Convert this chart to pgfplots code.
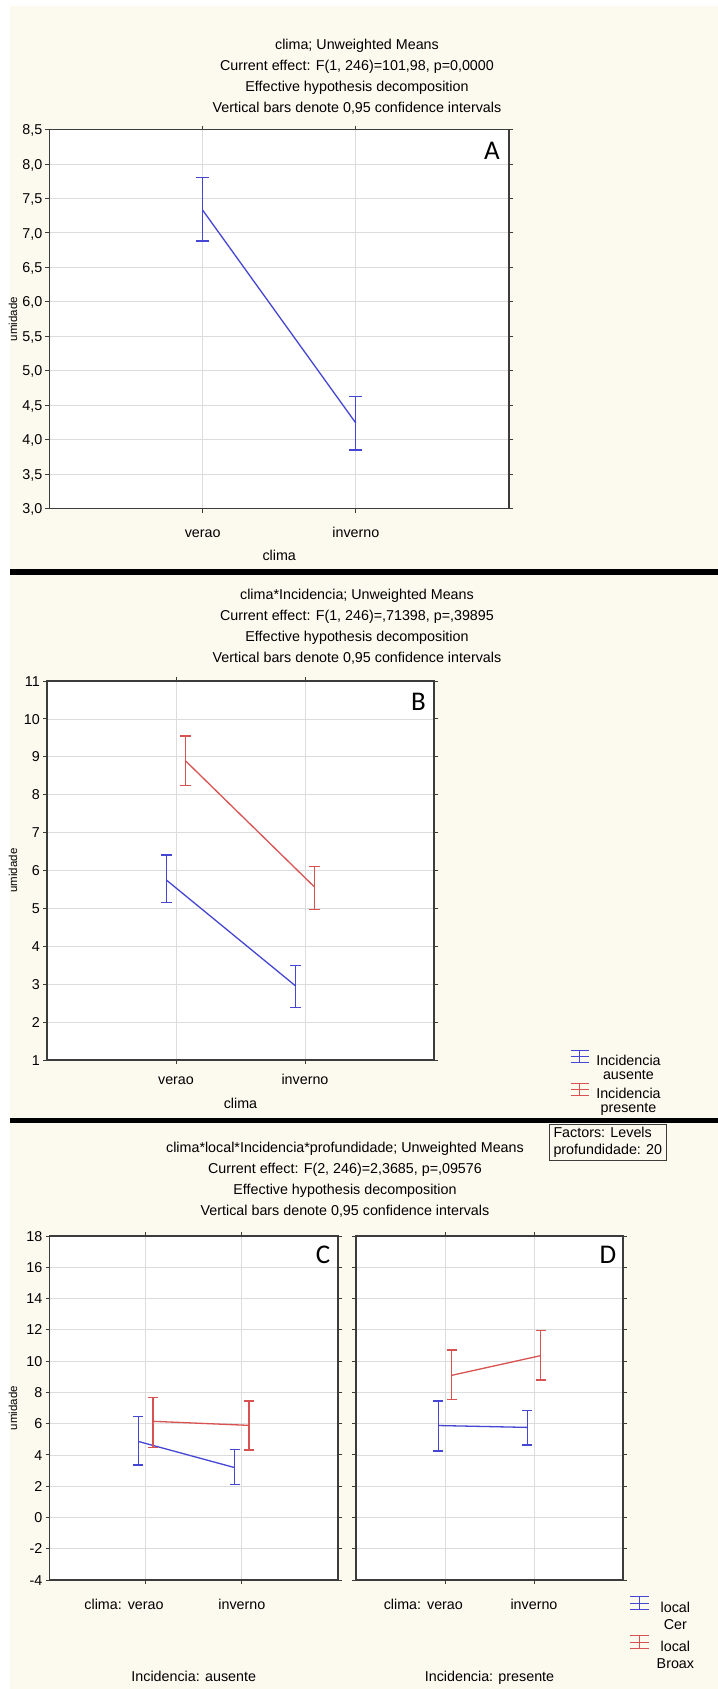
\documentclass[border=0pt]{standalone}
\usepackage{fontspec}
\setmainfont{Liberation Sans}
\newfontfamily\lblfont{Carlito}
\usepackage{pgfplots}
\pgfplotsset{compat=1.18}

\definecolor{bg}{RGB}{252,249,239}
\definecolor{sblue}{RGB}{70,70,212}
\definecolor{sred}{RGB}{216,82,82}
\definecolor{gridc}{RGB}{220,220,220}
\definecolor{axc}{RGB}{60,60,60}

\newcommand{\tf}{\fontsize{14.3bp}{17bp}\selectfont}
\newcommand{\yf}{\fontsize{11.5bp}{13bp}\selectfont}

\pgfplotsset{
  statbase/.style={
    scale only axis,
    anchor=north west,
    axis background/.style={fill=white},
    axis line style={axc, line width=1.2bp},
    grid=major,
    major grid style={gridc, line width=0.8bp},
    tick style={axc, line width=0.9bp},
    major tick length=4bp,
    tick align=outside,
    xtick pos=both, ytick pos=both,
    xmin=-1, xmax=2, xtick={0,1},
    ticklabel style={font=\tf},
    /pgf/number format/assume math mode=true,
    yticklabel style={anchor=east, inner sep=0pt, text height=10.3bp, text depth=0pt, xshift=-3bp},
    xticklabel style={anchor=north, inner sep=0pt, text height=10bp, text depth=3bp},
    ylabel={umidade},
    ylabel style={font=\yf, anchor=center, inner sep=0pt},
    xlabel style={font=\tf, anchor=center, inner sep=0pt, text height=10.3bp, text depth=0pt},
  },
  sb/.style={sblue, line width=1.3bp, mark=none,
    error bars/y dir=both, error bars/y explicit,
    error bars/error bar style={line width=1.3bp},
    error bars/error mark options={sblue, line width=1.3bp, rotate=90, mark size=#1}},
  sr/.style={sred, line width=1.3bp, mark=none,
    error bars/y dir=both, error bars/y explicit,
    error bars/error bar style={line width=1.3bp},
    error bars/error mark options={sred, line width=1.3bp, rotate=90, mark size=#1}},
}

\begin{document}
\begin{tikzpicture}
\useasboundingbox (0,0) rectangle (718bp,-1689bp);
\fill[white] (0,0) rectangle (718bp,-1689bp);
\fill[bg] (10bp,-6bp) rectangle (718bp,-1689bp);
\fill[black] (10bp,-569bp) rectangle (718bp,-575bp);
\fill[black] (10bp,-1118bp) rectangle (718bp,-1123bp);

% ---------- titles
\tikzset{tl/.style={font=\tf, anchor=center, inner sep=0pt, text height=10.3bp, text depth=0pt}}
\node[tl] at (357bp,-44bp) {clima; Unweighted Means};
\node[tl] at (357bp,-65bp) {Current effect: F(1, 246)=101,98, p=0,0000};
\node[tl] at (357bp,-86bp) {Effective hypothesis decomposition};
\node[tl] at (357bp,-107bp) {Vertical bars denote 0,95 confidence intervals};

\node[tl] at (357bp,-594bp) {clima*Incidencia; Unweighted Means};
\node[tl] at (357bp,-615bp) {Current effect: F(1, 246)=,71398, p=,39895};
\node[tl] at (357bp,-636bp) {Effective hypothesis decomposition};
\node[tl] at (357bp,-657bp) {Vertical bars denote 0,95 confidence intervals};

\node[tl] at (345bp,-1147bp) {clima*local*Incidencia*profundidade; Unweighted Means};
\node[tl] at (345bp,-1168bp) {Current effect: F(2, 246)=2,3685, p=,09576};
\node[tl] at (345bp,-1189bp) {Effective hypothesis decomposition};
\node[tl] at (345bp,-1210bp) {Vertical bars denote 0,95 confidence intervals};

\node[draw=axc, line width=1bp, anchor=north west, font=\tf, align=left,
      inner xsep=4bp, inner ysep=3bp] at (549bp,-1124bp)
      {Factors: Levels\\profundidade: 20};

% ---------- panel A
\begin{axis}[statbase,
  at={(49.5bp,-129.5bp)}, width=459.5bp, height=379bp,
  ymin=3, ymax=8.5, ytick={3,3.5,...,8.5},
  yticklabel style={/pgf/number format/.cd, fixed, fixed zerofill, precision=1, use comma},
  xticklabels={verao, inverno},
  xticklabel style={yshift=-14.5bp},
  xlabel={clima},
  xlabel style={at={(axis description cs:0.5,0)}, yshift=-46.5bp},
  ylabel style={at={(axis description cs:-0.0794,0.5)}},
]
\addplot[sb=6.5bp] coordinates {
  (0, 7.33) += (0,0.47) -= (0,0.45)
  (1, 4.24) += (0,0.39) -= (0,0.39)
};
\node[font=\lblfont\fontsize{27bp}{27bp}\selectfont, anchor=center] at (rel axis cs:0.963,0.944) {A};
\end{axis}

% ---------- panel B
\begin{axis}[statbase,
  at={(47bp,-681bp)}, width=387bp, height=379bp,
  ymin=1, ymax=11, ytick={1,...,11},
  xticklabels={verao, inverno},
  xticklabel style={yshift=-10.7bp},
  xlabel={clima},
  xlabel style={at={(axis description cs:0.5,0)}, yshift=-43bp},
  ylabel style={at={(axis description cs:-0.0879,0.5)}},
  legend image code/.code={
    \draw[#1] (0bp,5bp) -- (18bp,5bp);
    \draw[#1] (9bp,-1bp) -- (9bp,11bp);
    \draw[#1] (0bp,11bp) -- (18bp,11bp);
    \draw[#1] (0bp,-1bp) -- (18bp,-1bp);
  },
  legend cell align=center,
  legend style={at={(axis description cs:1.3514,0.026)}, anchor=north west,
    draw=none, fill=none, font=\tf, inner sep=0pt, outer sep=0pt,
    row sep=0pt, column sep=7bp,
    nodes={inner sep=0pt, text height=11bp, text depth=3bp}},
]
\addplot[sb=5.5bp] coordinates {
  (-0.075, 5.75) += (0,0.66) -= (0,0.60)
  (0.925, 2.96) += (0,0.54) -= (0,0.57)
};
\addlegendentry{Incidencia}
\addlegendimage{empty legend}
\addlegendentry{ausente}
\addplot[sr=5.5bp] coordinates {
  (0.075, 8.89) += (0,0.66) -= (0,0.65)
  (1.075, 5.56) += (0,0.55) -= (0,0.58)
};
\addlegendentry{Incidencia}
\addlegendimage{empty legend}
\addlegendentry{presente}
\node[font=\lblfont\fontsize{27bp}{27bp}\selectfont, anchor=center] at (rel axis cs:0.96,0.945) {B};
\end{axis}

% ---------- panel C
\begin{axis}[statbase,
  at={(49.5bp,-1236bp)}, width=288.5bp, height=344bp,
  ymin=-4, ymax=18, ytick={-4,-2,...,18},
  xticklabels={\llap{clima:\hspace{6bp}}verao, inverno},
  xticklabel style={yshift=-15.2bp},
  xlabel={Incidencia: ausente},
  xlabel style={at={(axis description cs:0.5,0)}, yshift=-96bp},
  ylabel style={at={(axis description cs:-0.1265,0.5)}},
]
\addplot[sb=5bp] coordinates {
  (-0.075, 4.86) += (0,1.60) -= (0,1.51)
  (0.925, 3.19) += (0,1.17) -= (0,1.07)
};
\addplot[sr=5bp] coordinates {
  (0.075, 6.15) += (0,1.52) -= (0,1.68)
  (1.075, 5.89) += (0,1.56) -= (0,1.57)
};
\node[font=\lblfont\fontsize{27bp}{27bp}\selectfont, anchor=center] at (rel axis cs:0.948,0.945) {C};
\end{axis}

% ---------- panel D
\begin{axis}[statbase,
  at={(356bp,-1236bp)}, width=267bp, height=344bp,
  ymin=-4, ymax=18, ytick={-4,-2,...,18},
  yticklabels={}, ylabel={},
  xticklabels={\llap{clima:\hspace{6bp}}verao, inverno},
  xticklabel style={yshift=-15.2bp},
  xlabel={Incidencia: presente},
  xlabel style={at={(axis description cs:0.5,0)}, yshift=-96bp},
  legend image code/.code={
    \draw[#1] (0bp,5bp) -- (19bp,5bp);
    \draw[#1] (9.5bp,-1.5bp) -- (9.5bp,11.5bp);
    \draw[#1] (0bp,11.5bp) -- (19bp,11.5bp);
    \draw[#1] (0bp,-1.5bp) -- (19bp,-1.5bp);
  },
  legend cell align=center,
  legend style={at={(axis description cs:1.024,-0.0465)}, anchor=north west,
    draw=none, fill=none, font=\tf, inner sep=0pt, outer sep=0pt,
    row sep=3bp, column sep=7bp,
    nodes={inner sep=0pt, text height=11bp, text depth=3bp}},
]
\addplot[sb=5bp] coordinates {
  (-0.075, 5.88) += (0,1.57) -= (0,1.62)
  (0.925, 5.76) += (0,1.07) -= (0,1.13)
};
\addlegendentry{local}
\addlegendimage{empty legend}
\addlegendentry{Cer}
\addplot[sr=5bp] coordinates {
  (0.075, 9.09) += (0,1.63) -= (0,1.54)
  (1.075, 10.35) += (0,1.60) -= (0,1.56)
};
\addlegendentry{local}
\addlegendimage{empty legend}
\addlegendentry{Broax}
\node[font=\lblfont\fontsize{27bp}{27bp}\selectfont, anchor=center] at (rel axis cs:0.944,0.945) {D};
\end{axis}
\end{tikzpicture}
\end{document}
